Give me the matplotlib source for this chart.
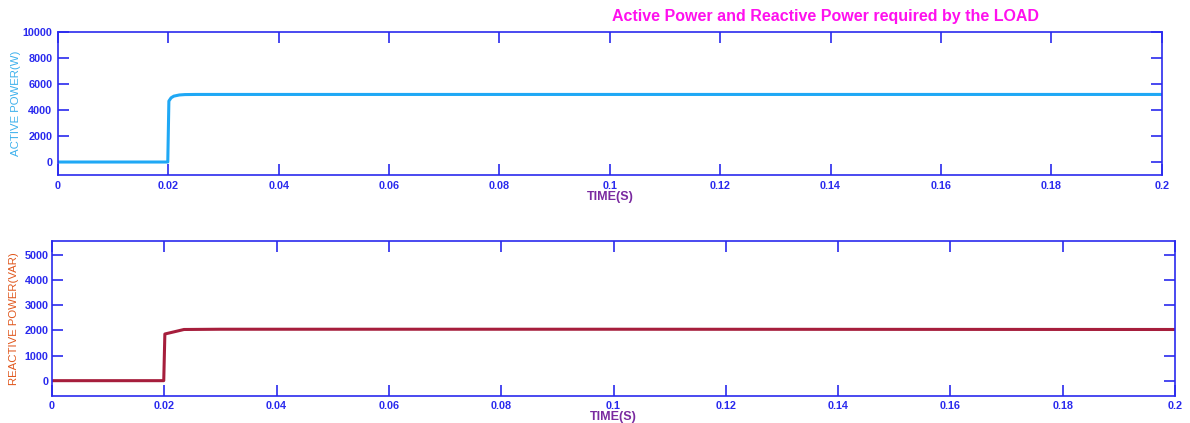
import matplotlib
matplotlib.use('Agg')
import matplotlib.pyplot as plt
import numpy as np

plt.rcParams['font.family'] = ['Liberation Sans', 'DejaVu Sans']

# load response: time (s) and power values
t_p = [0.0, 0.0199, 0.0201, 0.0205, 0.021, 0.022, 0.023, 0.025, 0.03, 0.1, 0.2]
p_load = [0, 0, 4700, 4950, 5080, 5170, 5200, 5210, 5210, 5210, 5210]

t_q = [0.0, 0.0199, 0.0201, 0.0235, 0.03, 0.1, 0.2]
q_load = [0, 0, 1860, 2040, 2050, 2050, 2040]

p_ticks = [0, 2000, 4000, 6000, 8000, 10000]
q_ticks = [0, 1000, 2000, 3000, 4000, 5000]
t_ticks = [0, 0.02, 0.04, 0.06, 0.08, 0.1, 0.12, 0.14, 0.16, 0.18, 0.2]
t_labels = ['0', '0.02', '0.04', '0.06', '0.08', '0.1', '0.12', '0.14',
            '0.16', '0.18', '0.2']

axis_col = '#2a2aee'
fig = plt.figure(figsize=(11.9, 4.23), dpi=100)
ax1 = fig.add_axes([0.0487, 0.5863, 0.9275, 0.3373])
ax2 = fig.add_axes([0.0437, 0.0645, 0.9437, 0.3665])


def style_axis(ax, yticks, ylim, ylabel, ycol, ylx, ypad):
    ax.set_xlim(0, 0.2)
    ax.set_ylim(*ylim)
    ax.set_xticks(t_ticks)
    ax.set_xticklabels(t_labels)
    ax.set_yticks(yticks)
    ax.set_yticklabels([str(v) for v in yticks])
    ax.tick_params(direction='in', length=8, width=1.2, colors=axis_col,
                   top=True, right=True, labelsize=7.8, pad=4)
    ax.tick_params(axis='y', pad=ypad)
    for lab in ax.get_xticklabels() + ax.get_yticklabels():
        lab.set_fontweight('bold')
    for sp in ax.spines.values():
        sp.set_color(axis_col)
        sp.set_linewidth(1.2)
    ax.set_xlabel('TIME(S)', color='#7a2aa0', fontsize=9, fontweight='bold',
                  labelpad=0)
    ax.set_ylabel(ylabel, color=ycol, fontsize=8.2)
    ax.yaxis.set_label_coords(ylx, 0.5)


ax1.plot(t_p, p_load, color='#1fa8f5', lw=2.2)
style_axis(ax1, p_ticks, (-1000, 10000), 'ACTIVE POWER(W)', '#3cb0ec',
           -0.0335, 4)

ax2.plot(t_q, q_load, color='#a61e3c', lw=2.2)
style_axis(ax2, q_ticks, (-600, 5580), 'REACTIVE POWER(VAR)', '#e0581e',
           -0.0295, 2.5)

fig.text(0.694, 0.962, 'Active Power and Reactive Power required by the LOAD',
         color='#ff10ee', fontsize=11.5, fontweight='bold', ha='center',
         va='center')

fig.savefig('out.png', dpi=100)
